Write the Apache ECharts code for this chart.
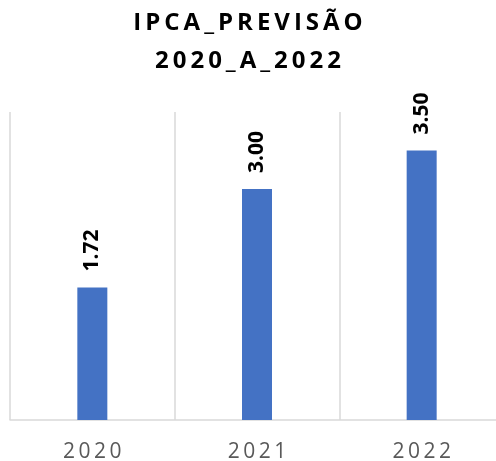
<!DOCTYPE html>
<html>
<head>
<meta charset="utf-8">
<script src="https://cdn.jsdelivr.net/npm/echarts@6/dist/echarts.min.js"></script>
<style>
  html, body { margin: 0; padding: 0; background: #fff; }
  #chart { width: 496px; height: 461px; }
</style>
</head>
<body>
<div id="chart"></div>
<script>
// IPCA previsão 2020 a 2022
const anos = ['2020', '2021', '2022']
const ipca = [1.72, 3.00, 3.50]

// espaçamento entre letras (thin space)
const sp = s => s.split('').join('\u2009')

const chart = echarts.init(document.getElementById('chart'))

chart.setOption({
  animation: false,
  title: {
    text: sp('IPCA_PREVISÃO') + '\n' + sp('2020_A_2022'),
    left: 'center',
    top: -1,
    textStyle: {
      fontFamily: 'Open Sans',
      fontWeight: 'bold',
      fontSize: 24,
      lineHeight: 38,
      color: '#000'
    }
  },
  grid: {
    left: 10,
    right: -8,
    top: 112,
    bottom: 41,
    outerBoundsMode: 'none'
  },
  xAxis: {
    type: 'category',
    data: anos,
    axisTick: { show: false },
    axisLine: { lineStyle: { color: '#d9d9d9', width: 1.5 } },
    splitLine: { show: true, lineStyle: { color: '#d9d9d9', width: 1.5 } },
    axisLabel: {
      formatter: v => sp(v),
      margin: 22,
      fontFamily: 'Open Sans',
      fontSize: 21,
      color: '#595959'
    }
  },
  yAxis: {
    type: 'value',
    min: 0,
    max: 4,
    show: false,
    splitLine: { show: false }
  },
  series: [
    {
      type: 'bar',
      data: ipca,
      barWidth: 30,
      itemStyle: { color: '#4472c4' },
      label: {
        show: true,
        position: 'top',
        rotate: 90,
        align: 'left',
        verticalAlign: 'middle',
        distance: 16,
        formatter: p => p.value.toFixed(2),
        fontFamily: 'Open Sans',
        fontWeight: 'bold',
        fontSize: 21,
        color: '#000'
      }
    }
  ]
})
</script>
</body>
</html>
